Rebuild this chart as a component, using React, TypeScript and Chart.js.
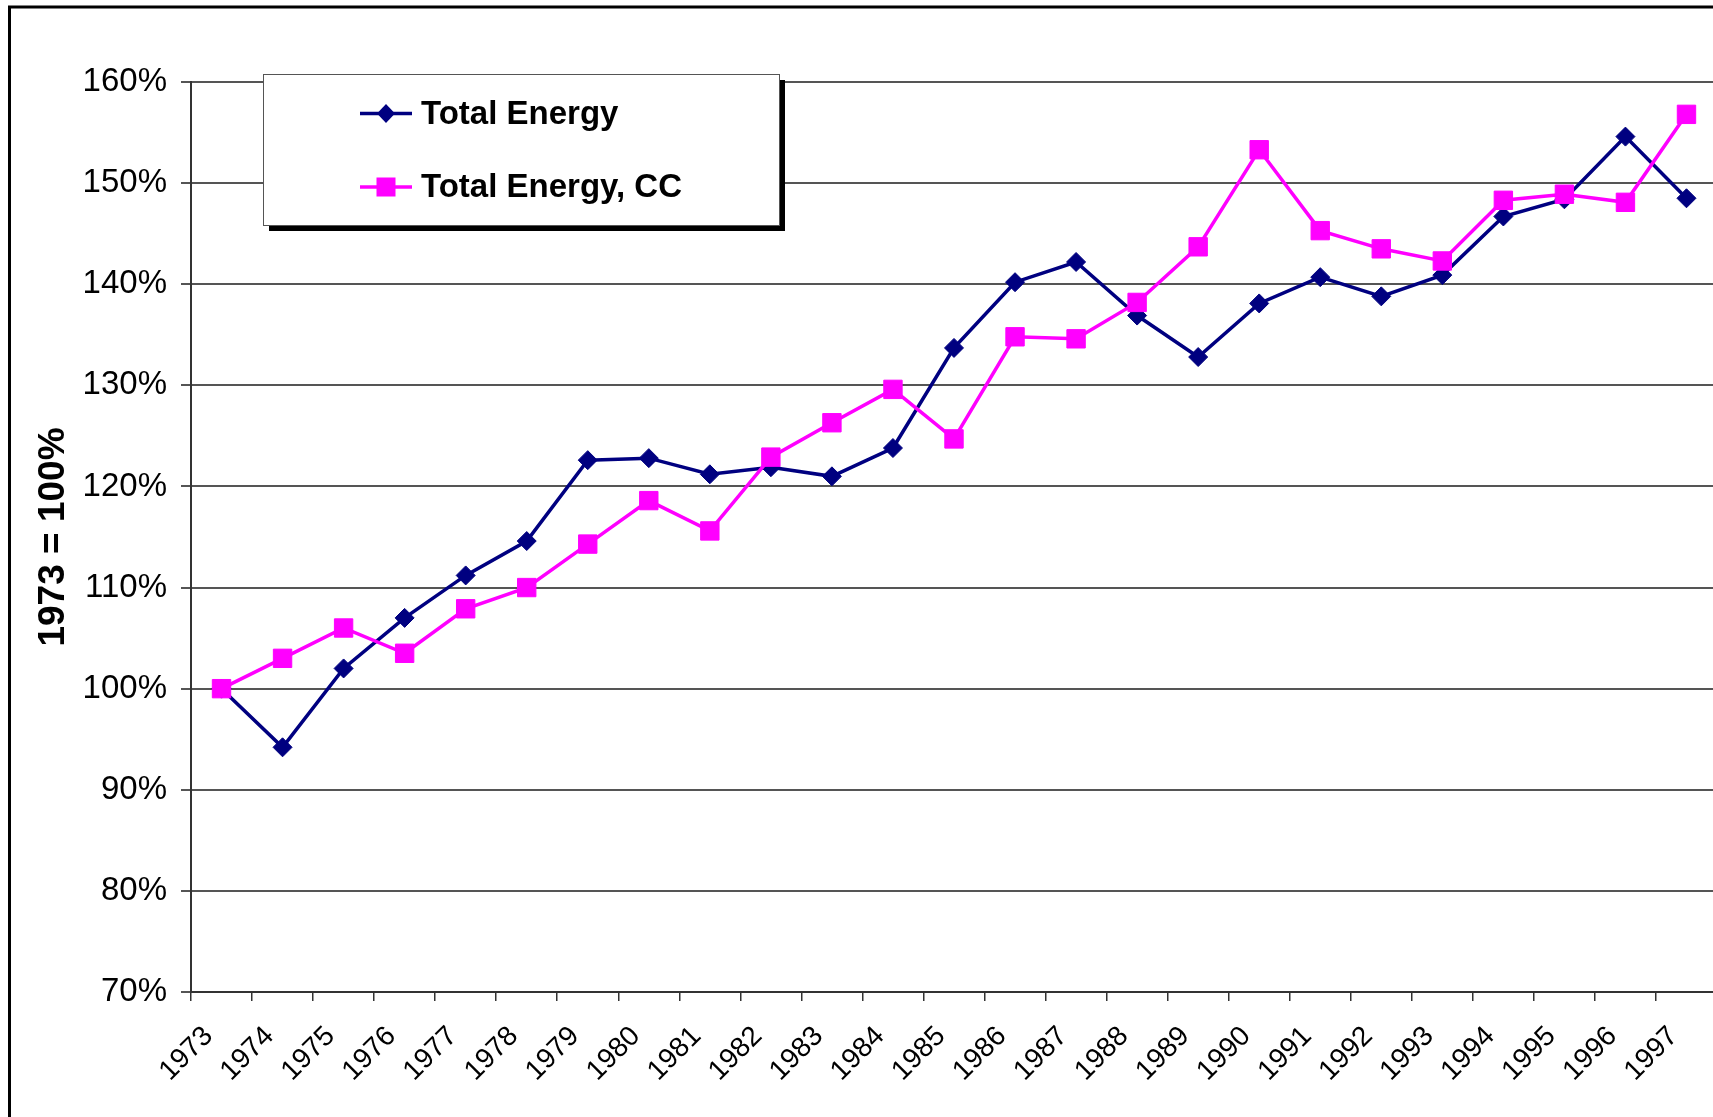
import React, { useEffect, useRef } from 'react';
import { Chart, registerables } from 'chart.js';

Chart.register(...registerables);

const categories = [
  '1973', '1974', '1975', '1976', '1977', '1978', '1979', '1980', '1981', '1982',
  '1983', '1984', '1985', '1986', '1987', '1988', '1989', '1990', '1991', '1992',
  '1993', '1994', '1995', '1996', '1997',
];

const totalEnergy = [
  100.0, 94.2, 102.0, 107.0, 111.2, 114.6, 122.6, 122.8, 121.2, 121.9,
  121.0, 123.8, 133.7, 140.2, 142.2, 136.9, 132.8, 138.1, 140.7, 138.8,
  140.9, 146.7, 148.4, 154.6, 148.5,
];

const totalEnergyCC = [
  100.0, 103.0, 106.0, 103.5, 107.9, 110.0, 114.3, 118.6, 115.6, 122.9,
  126.3, 129.6, 124.7, 134.8, 134.6, 138.2, 143.7, 153.3, 145.3, 143.5,
  142.3, 148.3, 148.9, 148.1, 156.8,
];

const seriesLabels = ['Total Energy', 'Total Energy, CC'];
const seriesColors = ['#000080', '#FF00FF'];
const yMin = 70;
const yMax = 160;
const yStep = 10;
const yTitle = '1973 = 100%';

const FONT = '"Liberation Sans", Arial, Helvetica, sans-serif';

const framePlugin = {
  id: 'frameAndLegend',
  afterDraw(chart: any) {
    const ctx = chart.ctx as CanvasRenderingContext2D;
    ctx.save();
    // outer chart frame
    ctx.strokeStyle = '#000';
    ctx.lineWidth = 3;
    ctx.strokeRect(9.5, 7, 3000, 3000);

    // legend box with shadow
    const bx = 263, by = 74, bw = 516, bh = 151;
    ctx.fillStyle = '#000';
    ctx.fillRect(bx + 6, by + 6, bw, bh);
    ctx.fillStyle = '#fff';
    ctx.fillRect(bx, by, bw, bh);
    ctx.strokeStyle = '#555';
    ctx.lineWidth = 1;
    ctx.strokeRect(bx + 0.5, by + 0.5, bw, bh);

    const baselines = [123.5, 197];
    chart.data.datasets.forEach((ds: any, i: number) => {
      const base = baselines[i];
      const cy = base - 10;
      const color = ds.borderColor;
      ctx.strokeStyle = color;
      ctx.lineWidth = 3.5;
      ctx.beginPath();
      ctx.moveTo(360, cy);
      ctx.lineTo(412, cy);
      ctx.stroke();
      ctx.fillStyle = color;
      const cx = 386;
      if (ds.pointStyle === 'rectRot') {
        const rx = 9, ry = 9.5;
        ctx.beginPath();
        ctx.moveTo(cx, cy - ry);
        ctx.lineTo(cx + rx, cy);
        ctx.lineTo(cx, cy + ry);
        ctx.lineTo(cx - rx, cy);
        ctx.closePath();
        ctx.fill();
      } else {
        ctx.fillRect(cx - 9.5, cy - 9.5, 19, 19);
      }
      ctx.fillStyle = '#000';
      ctx.font = `bold 33px ${FONT}`;
      ctx.textAlign = 'left';
      ctx.textBaseline = 'alphabetic';
      ctx.fillText(ds.label, 421, base);
    });
    ctx.restore();
  },
};

export default function App() {
  const ref = useRef<HTMLCanvasElement | null>(null);

  useEffect(() => {
    if (!ref.current) return;
    const chart = new Chart(ref.current, {
      type: 'line',
      data: {
        labels: categories,
        datasets: [
          {
            label: seriesLabels[0],
            data: totalEnergy,
            borderColor: seriesColors[0],
            backgroundColor: seriesColors[0],
            borderWidth: 3.5,
            pointStyle: 'rectRot',
            pointRadius: 9.5,
            pointBorderWidth: 1,
            pointBackgroundColor: seriesColors[0],
            pointBorderColor: seriesColors[0],
            tension: 0,
            fill: false,
            order: 1,
            clip: false as any,
          },
          {
            label: seriesLabels[1],
            data: totalEnergyCC,
            borderColor: seriesColors[1],
            backgroundColor: seriesColors[1],
            borderWidth: 3.5,
            pointStyle: 'rect',
            pointRadius: 13,
            pointBorderWidth: 1,
            pointBackgroundColor: seriesColors[1],
            pointBorderColor: seriesColors[1],
            tension: 0,
            fill: false,
            order: 0,
            clip: false as any,
          },
        ],
      },
      options: {
        responsive: false,
        animation: false,
        devicePixelRatio: 1,
        layout: { padding: { top: 82, right: 23, bottom: 0, left: 0 } },
        plugins: {
          legend: { display: false },
          tooltip: { enabled: false },
          title: { display: false },
        },
        scales: {
          x: {
            offset: true,
            grid: {
              offset: true,
              drawOnChartArea: false,
              drawTicks: true,
              tickLength: 9,
              color: '#333',
              lineWidth: 1.5,
            },
            border: { display: true, color: '#333', width: 2 },
            ticks: {
              autoSkip: false,
              minRotation: 45,
              maxRotation: 45,
              color: '#000',
              padding: 19,
              labelOffset: -13,
              font: { family: FONT, size: 28 },
            },
            afterFit: (s: any) => {
              s.height = 125;
            },
          },
          y: {
            min: yMin,
            max: yMax,
            ticks: {
              stepSize: yStep,
              color: '#000',
              padding: 14,
              font: { family: FONT, size: 33 },
              callback: (v: any) => `${v}%`,
            },
            grid: {
              color: '#555',
              lineWidth: 2,
              tickLength: 10,
              drawTicks: true,
            },
            border: { display: true, color: '#333', width: 2 },
            title: {
              display: true,
              text: yTitle,
              color: '#000',
              font: { family: FONT, size: 37, weight: 'bold' },
              padding: { top: 32, bottom: 0 },
            },
            afterFit: (s: any) => {
              s.width = 191;
            },
          },
        },
      },
      plugins: [framePlugin],
    });
    return () => chart.destroy();
  }, []);

  return (
    <div
      style={{
        position: 'fixed',
        left: 0,
        top: 0,
        width: 1713,
        height: 1117,
        overflow: 'hidden',
        background: '#fff',
      }}
    >
      <canvas ref={ref} width={1740} height={1117} style={{ display: 'block', width: 1740, height: 1117 }} />
    </div>
  );
}
